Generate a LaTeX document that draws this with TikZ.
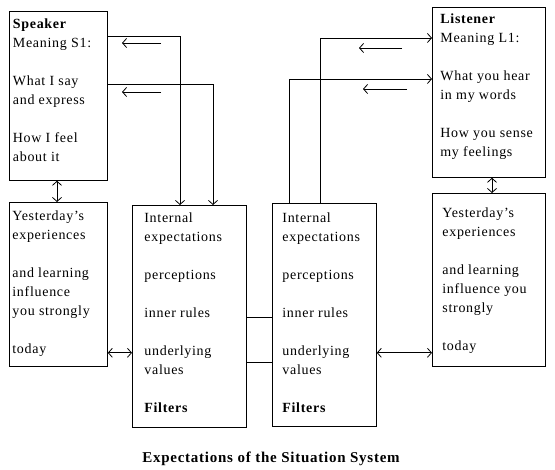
\documentclass[tikz,border=0pt]{standalone}
\usepackage{fontspec}
\setmainfont{Liberation Serif}[LetterSpace=5]
\usetikzlibrary{arrows.meta}

\begin{document}
\begin{tikzpicture}[x=1pt,y=-1pt,line width=0.8pt,
    >={Straight Barb[length=4pt,width=9pt]},
    box/.style={draw,rectangle,inner sep=0pt,anchor=north west},
    txt/.style={anchor=north west,inner sep=0pt,align=left,font=\fontsize{14}{19}\selectfont}]
            \useasboundingbox (0,0) rectangle (555,470);

            % boxes
            \node[box,minimum width=98pt,minimum height=169pt] (speaker) at (9,11) {};
            \node[box,minimum width=113pt,minimum height=170pt] (listener) at (432,7) {};
            \node[box,minimum width=98pt,minimum height=164pt] (yestl) at (9,202) {};
            \node[box,minimum width=114pt,minimum height=222pt] (filtl) at (132,205) {};
            \node[box,minimum width=104pt,minimum height=223pt] (filtr) at (272,203) {};
            \node[box,minimum width=113pt,minimum height=173pt] (yestr) at (432,193) {};

            % texts
            \node[txt] (speakertxt) at (12.5,14.7) {\strut\textbf{Speaker}\\Meaning S1:\\[19pt]What I say\\and express\\[19pt]How I feel\\about it};
            \node[txt] (listenertxt) at (440,10) {\strut\textbf{Listener}\\Meaning L1:\\[19pt]What you hear\\in my words\\[19pt]How you sense\\my feelings};
            \node[txt] (yestltxt) at (12,206.7) {\strut Yesterday's\\experiences\\[19pt]and learning\\influence\\you strongly\\[19pt]today};
            \node[txt] (filtltxt) at (144,209) {\strut Internal\\expectations\\[19pt]perceptions\\[19pt]inner rules\\[19pt]underlying\\values\\[19pt]\textbf{Filters}};
            \node[txt] (filtrtxt) at (282,209) {\strut Internal\\expectations\\[19pt]perceptions\\[19pt]inner rules\\[19pt]underlying\\values\\[19pt]\textbf{Filters}};
            \node[txt] (yestrtxt) at (442,203.7) {\strut Yesterday's\\experiences\\[19pt]and learning\\influence you\\strongly\\[19pt]today};

            \node[anchor=base,inner sep=0pt,font=\bfseries\fontsize{15}{18}\selectfont] (title) at (271,463) {Expectations of the Situation System};

            % speaker to filters
            \draw[->] ([yshift=-25pt]speaker.north east) -| ([xshift=48pt]filtl.north west);
            \draw[->] ([yshift=-73pt]speaker.north east) -| ([xshift=81pt]filtl.north west);

            % filters to listener
            \draw[->] ([xshift=48pt]filtr.north west) |- ([yshift=-31pt]listener.north west);
            \draw[->] ([xshift=17pt]filtr.north west) |- ([yshift=-72pt]listener.north west);

            % free arrows back
            \coordinate (back1) at (161,43);
            \coordinate (back2) at (161,92);
            \coordinate (back3) at (402,48);
            \coordinate (back4) at (407,89);
            \draw[->] (back1) -- ++(-39,0);
            \draw[->] (back2) -- ++(-39,0);
            \draw[->] (back3) -- ++(-43,0);
            \draw[->] (back4) -- ++(-44,0);

            % double arrows
            \draw[<->] ([xshift=48pt]speaker.south west) -- ([xshift=48pt]yestl.north west);
            \draw[<->] ([xshift=60pt]listener.south west) -- ([xshift=60pt]yestr.north west);
            \coordinate (yl) at ([yshift=14pt]yestl.south east);
            \draw[<->] (yl) -- (yl -| filtl.west);
            \coordinate (fr) at ([yshift=74pt]filtr.south east);
            \draw[<->] (fr) -- (fr -| yestr.west);

            % links between filters
            \coordinate (fl1) at ([yshift=110pt]filtl.south east);
            \coordinate (fl2) at ([yshift=65pt]filtl.south east);
            \draw (fl1) -- (fl1 -| filtr.west);
            \draw (fl2) -- (fl2 -| filtr.west);
\end{tikzpicture}
\end{document}
